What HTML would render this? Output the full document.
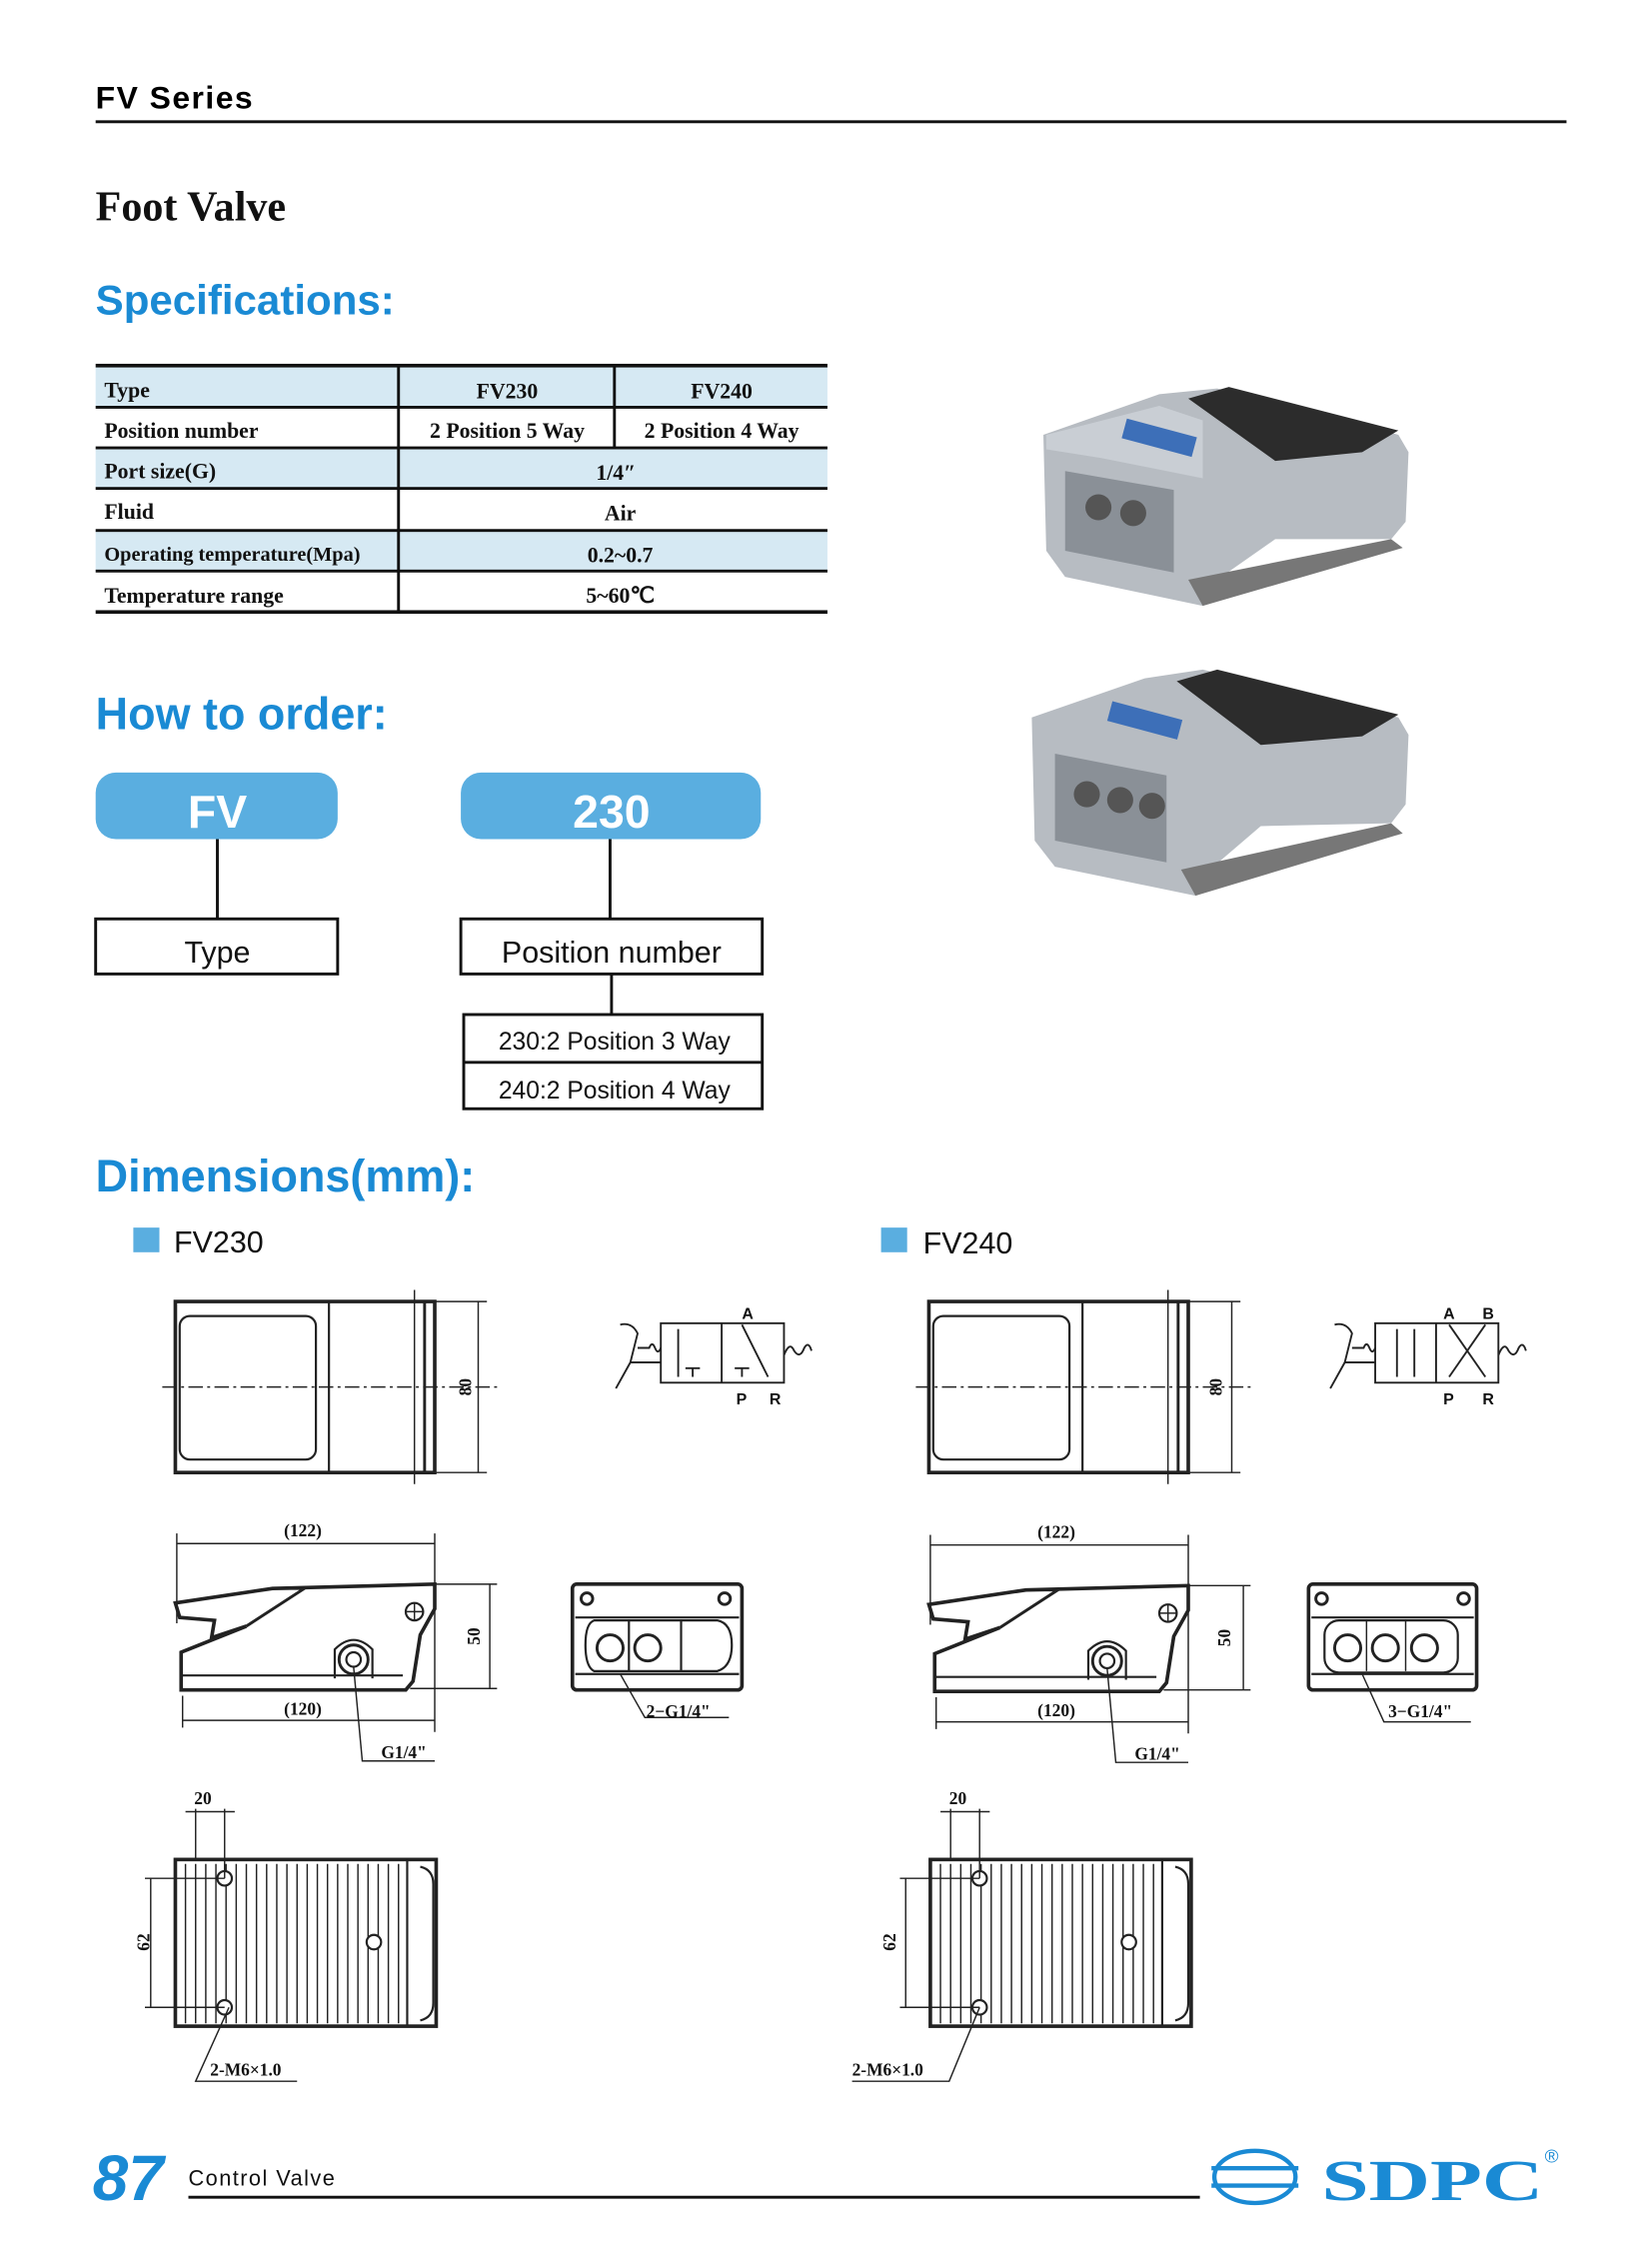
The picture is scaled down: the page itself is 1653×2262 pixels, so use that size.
<!DOCTYPE html>
<html><head><meta charset="utf-8"><style>
html,body{margin:0;padding:0;background:#fff;}
svg{display:block;}
.s{font-family:"Liberation Sans",sans-serif;}
.r{font-family:"Liberation Serif",serif;}
</style></head><body>
<svg width="1653" height="2262" viewBox="0 0 1140 1560" xmlns="http://www.w3.org/2000/svg">
<defs>
<g id="topv" fill="none" stroke="#222">
  <rect x="121" y="898" width="179" height="118" stroke-width="2.5"/>
  <rect x="124" y="908" width="94" height="99" rx="7" stroke-width="1.5"/>
  <line x1="227" y1="898" x2="227" y2="1016" stroke-width="1.5"/>
  <line x1="293" y1="898" x2="293" y2="1016" stroke-width="2"/>
  <line x1="112" y1="957" x2="345" y2="957" stroke-width="1" stroke-dasharray="10,3,2,3"/>
  <line x1="286" y1="890" x2="286" y2="1024" stroke-width="1"/>
  <line x1="300" y1="898" x2="336" y2="898" stroke-width="1"/>
  <line x1="300" y1="1016" x2="336" y2="1016" stroke-width="1"/>
  <line x1="330" y1="898" x2="330" y2="1016" stroke-width="1"/>
</g>
<g id="sidev" fill="none" stroke="#222">
  <line x1="122" y1="1058" x2="122" y2="1120" stroke-width="1"/>
  <line x1="300" y1="1058" x2="300" y2="1195" stroke-width="1"/>
  <line x1="122" y1="1065" x2="300" y2="1065" stroke-width="1"/>
  <path d="M121 1106 L188 1096 L300 1093 L300 1110 L290 1128 L285 1160 L280 1166 L125 1166 L125 1140 L135 1136 L170 1122 L146 1130 L148 1118 L124 1116 Z" stroke-width="2.5"/>
  <path d="M188 1096 L210 1096 L170 1122" stroke-width="2"/>
  <line x1="126" y1="1156" x2="278" y2="1156" stroke-width="1.5"/>
  <circle cx="286" cy="1112" r="6" stroke-width="1.5"/>
  <line x1="280" y1="1112" x2="292" y2="1112"/><line x1="286" y1="1106" x2="286" y2="1118"/>
  <circle cx="244" cy="1145" r="10" stroke-width="2"/><circle cx="244" cy="1145" r="5" stroke-width="1.5"/>
  <path d="M231 1158 L231 1138 Q244 1125 257 1138 L257 1158" stroke-width="1.5"/>
  <line x1="300" y1="1093" x2="343" y2="1093"/><line x1="283" y1="1165" x2="343" y2="1165"/>
  <line x1="338" y1="1093" x2="338" y2="1165"/>
  <line x1="126" y1="1170" x2="126" y2="1192"/>
  <line x1="126" y1="1187" x2="300" y2="1187"/>
  <path d="M244 1150 L250 1215 L300 1215" stroke-width="1"/>
</g>
<g id="bottomv" fill="none" stroke="#222">
  <rect x="121" y="1283" width="180" height="115" stroke-width="2.5"/>
  <path d="M281 1283 L281 1398 M290 1288 Q299 1290 299 1300 L299 1382 Q299 1392 290 1394" stroke-width="1.5"/>
  <g stroke-width="1">
    <path d="M128 1286V1396M135 1286V1396M142 1286V1396M149 1286V1396M156 1286V1396M163 1286V1396M170 1286V1396M177 1286V1396M184 1286V1396M191 1286V1396M198 1286V1396M205 1286V1396M212 1286V1396M219 1286V1396M226 1286V1396M233 1286V1396M240 1286V1396M247 1286V1396M254 1286V1396M261 1286V1396M268 1286V1396M275 1286V1396"/>
  </g>
  <circle cx="155" cy="1296" r="5" fill="#fff" stroke-width="1.5"/>
  <circle cx="155" cy="1385" r="5" fill="#fff" stroke-width="1.5"/>
  <circle cx="258" cy="1340" r="5" fill="#fff" stroke-width="1.5"/>
  <line x1="135" y1="1248" x2="135" y2="1283"/><line x1="155" y1="1248" x2="155" y2="1296"/>
  <line x1="128" y1="1250" x2="162" y2="1250"/>
  <line x1="100" y1="1296" x2="155" y2="1296"/><line x1="100" y1="1385" x2="155" y2="1385"/>
  <line x1="104" y1="1296" x2="104" y2="1385"/>
</g>
</defs>

<text x="66" y="75" class="s" font-size="22" font-weight="bold" letter-spacing="1">FV Series</text>
<rect x="66" y="83" width="1015" height="2" fill="#111"/>
<text x="66" y="152" class="r" font-size="29" font-weight="bold" fill="#111">Foot Valve</text>
<text x="66" y="217" class="s" font-size="29" font-weight="bold" fill="#1a8ad4">Specifications:</text>

<g>
<rect x="66" y="253" width="505" height="28" fill="#d6e9f3"/>
<rect x="66" y="309" width="505" height="28" fill="#d6e9f3"/>
<rect x="66" y="366" width="505" height="28" fill="#d6e9f3"/>
<g fill="#111">
<rect x="66" y="251" width="505" height="2.5"/><rect x="66" y="280" width="505" height="2"/>
<rect x="66" y="308" width="505" height="2"/><rect x="66" y="336" width="505" height="2"/>
<rect x="66" y="365" width="505" height="2"/><rect x="66" y="393" width="505" height="2"/>
<rect x="66" y="421" width="505" height="2.5"/>
<rect x="274" y="253" width="2" height="169"/><rect x="423" y="253" width="2" height="56"/>
</g>
<g class="r" font-size="15" font-weight="bold" fill="#111">
<text x="72" y="274">Type</text><text x="72" y="302">Position number</text>
<text x="72" y="330">Port size(G)</text><text x="72" y="358">Fluid</text>
<text x="72" y="387" font-size="14">Operating temperature(Mpa)</text><text x="72" y="416">Temperature range</text>
<g text-anchor="middle">
<text x="350" y="275">FV230</text><text x="498" y="275">FV240</text>
<text x="350" y="302">2 Position 5 Way</text><text x="498" y="302">2 Position 4 Way</text>
<text x="425" y="331">1/4″</text><text x="428" y="359">Air</text>
<text x="428" y="388">0.2~0.7</text><text x="428" y="416">5~60℃</text>
</g></g>
</g>

<g>
<path d="M720 300 L800 272 L840 268 L965 300 L972 312 L970 360 L960 372 L880 372 L840 400 L830 418 L735 398 L722 380 Z" fill="#b7bcc2"/>
<path d="M820 275 L848 267 L965 297 L940 312 L880 318 Z" fill="#2c2c2c"/>
<path d="M722 300 L800 280 L830 290 L830 330 L760 316 L722 310Z" fill="#c9ced4"/>
<rect x="775" y="295" width="50" height="14" fill="#3d6fb8" transform="rotate(15 800 302)"/>
<path d="M735 325 L810 338 L810 395 L735 380Z" fill="#8a9097"/>
<circle cx="758" cy="350" r="9" fill="#555"/><circle cx="782" cy="354" r="9" fill="#555"/>
<path d="M820 400 L960 372 L968 378 L830 418Z" fill="#777"/>
<path d="M712 495 L790 468 L830 462 L965 495 L972 507 L970 555 L960 568 L870 570 L835 600 L825 618 L728 598 L714 580 Z" fill="#b7bcc2"/>
<path d="M812 470 L840 462 L965 493 L940 508 L870 514 Z" fill="#2c2c2c"/>
<rect x="765" y="490" width="50" height="14" fill="#3d6fb8" transform="rotate(15 790 497)"/>
<path d="M728 520 L805 535 L805 595 L728 580Z" fill="#8a9097"/>
<circle cx="750" cy="548" r="9" fill="#555"/><circle cx="773" cy="552" r="9" fill="#555"/><circle cx="795" cy="556" r="9" fill="#555"/>
<path d="M815 600 L960 568 L968 575 L825 618Z" fill="#777"/>
</g>

<text x="66" y="503" class="s" font-size="31" font-weight="bold" fill="#1a8ad4">How to order:</text>
<rect x="66" y="533" width="167" height="46" rx="14" fill="#5aaee0"/>
<text x="150" y="571" class="s" font-size="32" font-weight="bold" fill="#fff" text-anchor="middle">FV</text>
<rect x="318" y="533" width="207" height="46" rx="14" fill="#5aaee0"/>
<text x="422" y="571" class="s" font-size="32" font-weight="bold" fill="#fff" text-anchor="middle">230</text>
<g stroke="#111" stroke-width="2" fill="none">
<line x1="150" y1="579" x2="150" y2="634"/><line x1="421" y1="579" x2="421" y2="634"/>
<rect x="66" y="634" width="167" height="38"/><rect x="318" y="634" width="208" height="38"/>
<line x1="422" y1="672" x2="422" y2="700"/>
<rect x="320" y="700" width="206" height="65"/><line x1="320" y1="733" x2="526" y2="733"/>
</g>
<g class="s" fill="#111" text-anchor="middle">
<text x="150" y="664" font-size="21">Type</text>
<text x="422" y="664" font-size="21">Position number</text>
<text x="424" y="724" font-size="17">230:2 Position 3 Way</text>
<text x="424" y="758" font-size="17">240:2 Position 4 Way</text>
</g>

<text x="66" y="822" class="s" font-size="31" font-weight="bold" fill="#1a8ad4">Dimensions(mm):</text>
<rect x="92" y="847" width="18" height="17" fill="#5aaee0"/>
<text x="120" y="864" class="s" font-size="21" fill="#111">FV230</text>
<rect x="608" y="847" width="18" height="17" fill="#5aaee0"/>
<text x="637" y="865" class="s" font-size="21" fill="#111">FV240</text>

<use href="#topv"/><use href="#sidev"/><use href="#bottomv"/>
<use href="#topv" transform="translate(520,0)"/><use href="#sidev" transform="translate(520,1)"/><use href="#bottomv" transform="translate(521,0)"/>

<g fill="none" stroke="#222" stroke-width="1.3">
<rect x="456" y="913" width="85" height="41"/><line x1="498" y1="913" x2="498" y2="954"/>
<line x1="468" y1="917" x2="468" y2="950"/>
<path d="M478 950V944M473 944H483M512 950V944M507 944H517"/>
<line x1="512" y1="914" x2="530" y2="950"/>
<path d="M456 940 L435 940 L425 958 M435 940 L440 920 Q436 912 428 914 M440 930 L448 930 Q450 925 452 930 Q454 935 456 930"/>
<path d="M541 935 Q545 925 548 932 Q552 938 555 930 Q558 925 560 932"/>
<rect x="949" y="913" width="85" height="41"/><line x1="991" y1="913" x2="991" y2="954"/>
<line x1="964" y1="917" x2="964" y2="950"/><line x1="976" y1="917" x2="976" y2="950"/>
<line x1="1000" y1="914" x2="1025" y2="950"/><line x1="1025" y1="914" x2="1000" y2="950"/>
<path d="M949 940 L928 940 L918 958 M928 940 L933 920 Q929 912 921 914 M933 930 L941 930 Q943 925 945 930 Q947 935 949 930"/>
<path d="M1034 935 Q1038 925 1041 932 Q1045 938 1048 930 Q1051 925 1053 932"/>
</g>
<g class="s" font-size="11" font-weight="bold" fill="#111">
<text x="512" y="910">A</text><text x="508" y="969">P</text><text x="531" y="969">R</text>
<text x="996" y="910">A</text><text x="1023" y="910">B</text><text x="996" y="969">P</text><text x="1023" y="969">R</text>
</g>

<g fill="none" stroke="#222">
<rect x="395" y="1093" width="117" height="73" rx="3" stroke-width="2.5"/>
<line x1="397" y1="1116" x2="510" y2="1116" stroke-width="1.5"/>
<line x1="397" y1="1155" x2="510" y2="1155" stroke-width="1.5"/>
<path d="M410 1118 L470 1118 L470 1153 L410 1153 Q404 1150 404 1135 Q404 1120 410 1118Z" stroke-width="1.5"/>
<path d="M470 1118 L495 1118 Q505 1120 505 1135 Q505 1150 495 1153 L470 1153" stroke-width="1.5"/>
<line x1="434" y1="1118" x2="434" y2="1153" stroke-width="1.5"/>
<circle cx="421" cy="1137" r="9" stroke-width="2"/><circle cx="447" cy="1137" r="9" stroke-width="2"/>
<circle cx="405" cy="1103" r="4" stroke-width="2"/><circle cx="500" cy="1103" r="4" stroke-width="2"/>
<path d="M428 1155 L445 1185 L503 1185" stroke-width="1"/>
<rect x="903" y="1093" width="116" height="73" rx="3" stroke-width="2.5"/>
<line x1="905" y1="1116" x2="1017" y2="1116" stroke-width="1.5"/>
<line x1="905" y1="1155" x2="1017" y2="1155" stroke-width="1.5"/>
<rect x="914" y="1118" width="92" height="36" rx="10" stroke-width="1.5"/>
<line x1="943" y1="1118" x2="943" y2="1153"/><line x1="970" y1="1118" x2="970" y2="1153"/>
<circle cx="930" cy="1137" r="9" stroke-width="2"/><circle cx="956" cy="1137" r="9" stroke-width="2"/><circle cx="983" cy="1137" r="9" stroke-width="2"/>
<circle cx="912" cy="1103" r="4" stroke-width="2"/><circle cx="1010" cy="1103" r="4" stroke-width="2"/>
<path d="M940 1155 L955 1188 L1015 1188" stroke-width="1"/>
<path d="M158 1385 L135 1436 L205 1436 M676 1385 L655 1436 L588 1436" stroke-width="1"/>
</g>

<g class="r" font-size="12" font-weight="bold" fill="#111">
<text x="196" y="1060">(122)</text><text x="716" y="1061">(122)</text>
<text x="196" y="1183">(120)</text><text x="716" y="1184">(120)</text>
<text x="263" y="1213">G1/4"</text><text x="783" y="1214">G1/4"</text>
<text x="446" y="1185">2−G1/4"</text><text x="958" y="1185">3−G1/4"</text>
<text x="134" y="1245">20</text><text x="655" y="1245">20</text>
<text x="145" y="1432">2-M6×1.0</text><text x="588" y="1432">2-M6×1.0</text>
<text transform="translate(325,957) rotate(-90)" text-anchor="middle">80</text>
<text transform="translate(843,957) rotate(-90)" text-anchor="middle">80</text>
<text transform="translate(331,1129) rotate(-90)" text-anchor="middle">50</text>
<text transform="translate(849,1130) rotate(-90)" text-anchor="middle">50</text>
<text transform="translate(103,1340) rotate(-90)" text-anchor="middle">62</text>
<text transform="translate(618,1340) rotate(-90)" text-anchor="middle">62</text>
</g>

<text x="64" y="1518" class="s" font-size="44" font-weight="bold" font-style="italic" fill="#1a8ad4">87</text>
<text x="130" y="1508" class="s" font-size="15" fill="#111" letter-spacing="1">Control Valve</text>
<rect x="130" y="1515" width="698" height="2" fill="#111"/>
<g fill="none" stroke="#1a8ad4" stroke-width="3">
<ellipse cx="866" cy="1502" rx="28" ry="18"/>
<line x1="836" y1="1496" x2="896" y2="1496"/><line x1="836" y1="1508" x2="896" y2="1508"/>
</g>
<text x="912" y="1518" class="r" font-size="40" font-weight="bold" fill="#1a8ad4" textLength="153" lengthAdjust="spacingAndGlyphs">SDPC</text>
<text x="1066" y="1492" class="s" font-size="13" fill="#1a8ad4">®</text>
</svg>
</body></html>
